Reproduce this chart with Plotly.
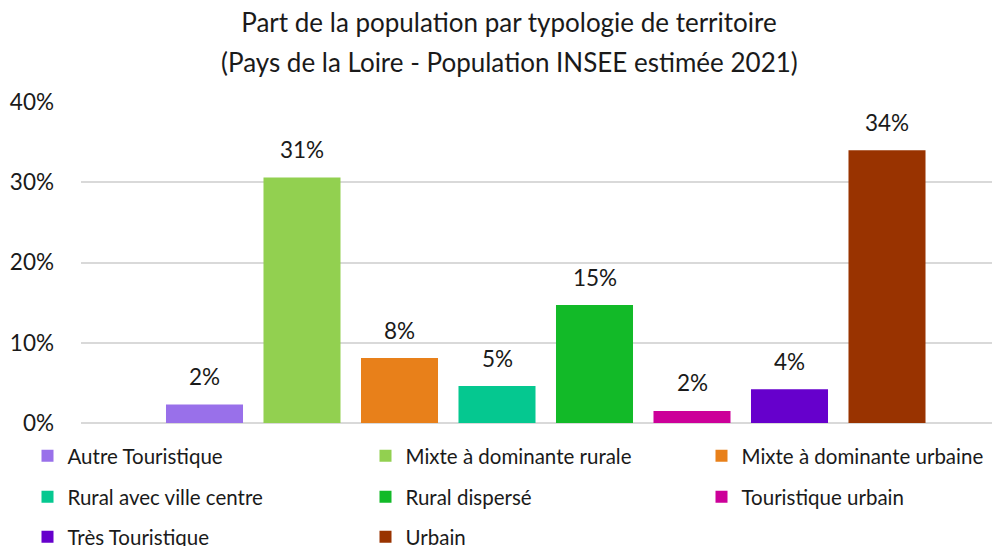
import plotly.graph_objects as go

title_line1 = "Part de la population par typologie de territoire"
title_line2 = "(Pays de la Loire - Population INSEE estimée 2021)"

categories = [
    "Autre Touristique",
    "Mixte à dominante rurale",
    "Mixte à dominante urbaine",
    "Rural avec ville centre",
    "Rural dispersé",
    "Touristique urbain",
    "Très Touristique",
    "Urbain",
]
values = [2.3, 30.6, 8.1, 4.6, 14.7, 1.5, 4.2, 34.0]
labels = ["2%", "31%", "8%", "5%", "15%", "2%", "4%", "34%"]
colors = ["#9970EA", "#92D050", "#E8801A", "#05C890", "#12BA28", "#CC0099", "#6600CC", "#993300"]

y_ticks = [0, 10, 20, 30, 40]
y_ticklabels = ["0%", "10%", "20%", "30%", "40%"]

FONT = "Lato"
TXT = "#1a1a1a"
W, H = 1000, 546
L, T, B, R = 73, 94, 131.3, 0
PW = W - L - R

fig = go.Figure()
legend_layout = {}
col_x = [19.5, 357.5, 693.5]
row_y = [448, 489, 529]
for i, (cat, val, col) in enumerate(zip(categories, values, colors)):
    lname = "legend" if i == 0 else f"legend{i + 1}"
    fig.add_trace(go.Bar(
        x=[i], y=[val], name=cat, marker=dict(color=col, line=dict(width=0)),
        width=0.79, legend=lname, hoverinfo="skip",
    ))
    fig.add_annotation(x=i, y=val, text=labels[i], showarrow=False, yanchor="middle",
                       yshift=28, font=dict(family=FONT, size=22.5, color=TXT))
    legend_layout[lname] = dict(
        orientation="h", xanchor="left", yanchor="middle",
        xref="container", yref="container",
        x=col_x[i % 3] / W, y=1 - row_y[i // 3] / H,
        font=dict(family=FONT, size=20.5, color=TXT),
        bgcolor="rgba(0,0,0,0)", itemclick=False, itemdoubleclick=False,
    )

fig.add_annotation(text=title_line2, xref="paper", yref="paper", x=(501 - L) / PW, y=1,
                   xanchor="center", yanchor="middle", yshift=40, showarrow=False,
                   font=dict(family=FONT, size=26, color=TXT))

fig.update_layout(
    width=W, height=H,
    margin=dict(l=L, r=R, t=T, b=B, autoexpand=False),
    paper_bgcolor="white", plot_bgcolor="white",
    barmode="overlay",
    title=dict(text=title_line1, x=501 / W, xanchor="center",
               y=1 - 15 / H, yanchor="middle", yref="container",
               font=dict(family=FONT, size=26, color=TXT)),
    xaxis=dict(range=[-(196.5 - L) / 97.5, -(196.5 - L) / 97.5 + PW / 97.5],
               showticklabels=False, showgrid=False,
               zeroline=False, showline=False, fixedrange=True),
    yaxis=dict(range=[0, 40], tickvals=y_ticks, ticktext=y_ticklabels,
               showgrid=True, gridcolor="#D9D9D9", gridwidth=1.5,
               zeroline=True, zerolinecolor="#D9D9D9", zerolinewidth=1.5,
               showline=False, ticks="", ticklabelstandoff=26,
               tickfont=dict(family=FONT, size=22.5, color=TXT), fixedrange=True),
    showlegend=True,
    **legend_layout,
)

fig.write_html("out.html")
